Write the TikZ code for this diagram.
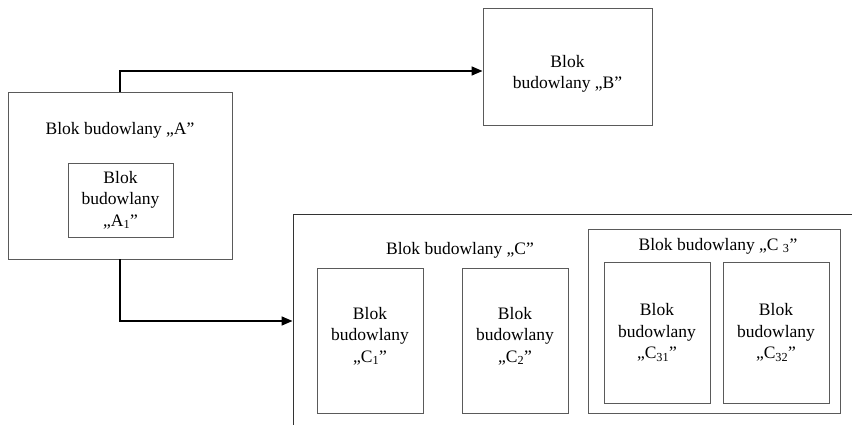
\documentclass[tikz,border=0pt]{standalone}
\usepackage{fontspec}
\setmainfont{Liberation Serif}
\usepackage{tikz}
\usetikzlibrary{positioning, arrows.meta}
\definecolor{boxgray}{RGB}{90,90,90}

\begin{document}
\begin{tikzpicture}[
  x=1pt, y=-1pt,
  blok/.style={rectangle, draw=boxgray, line width=0.9pt, fill=white,
               align=center, inner sep=0pt,
               font=\fontsize{17.5}{21.5}\selectfont},
  lbl/.style={font=\fontsize{17.5}{21.5}\selectfont, inner sep=0pt, align=center},
  arr/.style={-{Triangle[length=11pt, width=9pt]}, line width=1.4pt, draw=black}
]
\useasboundingbox (0,0) rectangle (852,425);
\clip (0,0) rectangle (852,425);

% Blok A
\node[blok, minimum width=224, minimum height=167] (A) at (120, 175.5) {};
\node[lbl] (lblA) at (120, 130) {Blok budowlany „A”};
\node[blok, minimum width=105, minimum height=74] (A1) at (120.5, 200)
    {Blok\\budowlany\\„A\textsubscript{1}”};

% Blok B
\node[blok, minimum width=169, minimum height=117] (B) at (567.5, 66.5) {};
\node[lbl] (lblB) at (567.5, 74) {Blok\\budowlany „B”};

% Blok C (wychodzi poza kadr)
\node[blok, draw=black!80, minimum width=580, minimum height=226] (C) at (583, 327) {};
\node[lbl] (lblC) at (460, 250) {Blok budowlany „C”};
\node[blok, minimum width=106, minimum height=145] (C1) at (370, 340.5) {};
\node[lbl] (lblC1) at (370, 336) {Blok\\budowlany\\„C\textsubscript{1}”};
\node[blok, minimum width=106, minimum height=145] (C2) at (515, 340.5) {};
\node[lbl] (lblC2) at (515, 336) {Blok\\budowlany\\„C\textsubscript{2}”};

% Blok C3
\node[blok, minimum width=252, minimum height=184] (C3) at (714, 321.5) {};
\node[lbl] (lblC3) at (718, 246) {Blok budowlany „C \textsubscript{3}”};
\node[blok, minimum width=106, minimum height=141] (C31) at (657, 332.5)
    {Blok\\budowlany\\„C\textsubscript{31}”};
\node[blok, minimum width=106, minimum height=141] (C32) at (776, 332.5)
    {Blok\\budowlany\\„C\textsubscript{32}”};

% Polaczenia
\draw[arr] (A.north) |- ([yshift=-4.5pt]B.west);
\draw[arr] (A.south) |- ([yshift=6pt]C.west);

\end{tikzpicture}
\end{document}
